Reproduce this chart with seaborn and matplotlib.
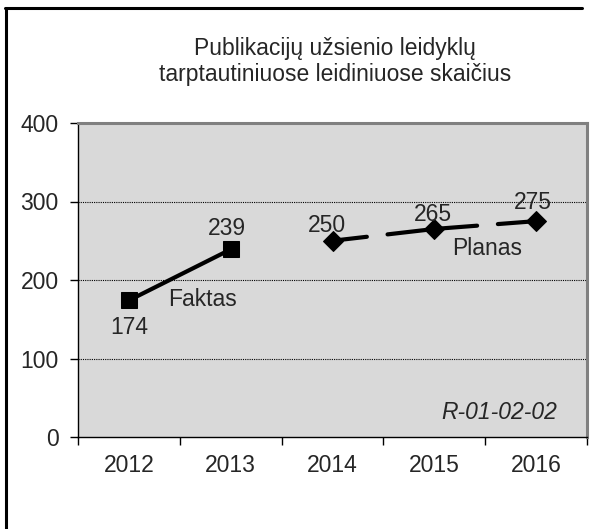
import matplotlib
matplotlib.use("Agg")
import matplotlib.pyplot as plt
import seaborn as sns
import pandas as pd
from matplotlib.lines import Line2D

sns.set_theme(style="white")
plt.rcParams['font.family'] = ['Liberation Sans', 'DejaVu Sans']

years = ["2012", "2013", "2014", "2015", "2016"]
fact_years = ["2012", "2013"]
fact_values = [174, 239]
plan_years = ["2014", "2015", "2016"]
plan_values = [250, 265, 275]
yticks = [0, 100, 200, 300, 400]
title = "Publikacijų užsienio leidyklų\ntarptautiniuose leidiniuose skaičius"

FS = 16.5

fig = plt.figure(figsize=(5.91, 5.29), dpi=100)
ax = fig.add_axes([78/591, 1-437/529, (587-78)/591, (437-123)/529])
ax.set_facecolor("#D9D9D9")

# category order
ax.plot(years, [None]*len(years), alpha=0)

df_f = pd.DataFrame({"year": fact_years, "value": fact_values})
df_p = pd.DataFrame({"year": plan_years, "value": plan_values})

sns.lineplot(data=df_f, x="year", y="value", ax=ax, color="black", lw=3.0,
             marker="s", markersize=11, markeredgecolor="black", sort=False)
sns.lineplot(data=df_p, x="year", y="value", ax=ax, color="black", lw=3.0,
             marker="D", markersize=10, markeredgecolor="black", sort=False,
             dashes=False)
ax.lines[-1].set_linestyle((13.3, (21.6, 5.0)))
ax.lines[-1].set_dash_capstyle("round")

ax.set_xlim(-0.5, 4.5)
ax.set_ylim(0, 400)
ax.set_yticks(yticks)
ax.set_yticklabels([str(t) for t in yticks], fontsize=FS)
ax.set_xticks(range(len(years)))
ax.set_xticklabels(years, fontsize=FS)
ax.set_xticks([i - 0.5 for i in range(len(years) + 1)], minor=True)
ax.tick_params(axis="x", which="major", length=0, pad=12)
ax.tick_params(axis="x", which="minor", length=6, width=1, color="black", direction="out", bottom=True)
ax.tick_params(axis="y", which="major", length=6, width=1, color="black", direction="out", left=True, pad=8)
ax.set_xlabel("")
ax.set_ylabel("")

for y in [100, 200, 300]:
    ax.axhline(y, color="black", lw=0.8, ls=(0, (1, 1)), zorder=1)

for s in ["left", "bottom"]:
    ax.spines[s].set_color("black")
    ax.spines[s].set_linewidth(1.0)
for s in ["top", "right"]:
    ax.spines[s].set_color("#808080")
    ax.spines[s].set_linewidth(2.2)

# value labels
ax.text(0.0, 140, "174", ha="center", va="center", fontsize=FS)
ax.text(0.96, 266, "239", ha="center", va="center", fontsize=FS)
ax.text(1.95, 270, "250", ha="center", va="center", fontsize=FS)
ax.text(2.99, 283, "265", ha="center", va="center", fontsize=FS)
ax.text(3.97, 299, "275", ha="center", va="center", fontsize=FS)
ax.text(0.72, 175, "Faktas", ha="center", va="center", fontsize=FS)
ax.text(3.52, 240, "Planas", ha="center", va="center", fontsize=FS)
ax.text(4.21, 31, "R-01-02-02", ha="right", va="center", fontsize=FS, style="italic")

fig.text(335/591, 1-61.5/529, title, ha="center", va="center", fontsize=FS,
         linespacing=1.15)

# outer frame (left and top only, as cropped)
fig.add_artist(Line2D([5.5/591, 5.5/591], [0, 1-8/529], color="black", lw=2.2,
                      transform=fig.transFigure))
fig.add_artist(Line2D([4.5/591, 582/591], [1-8/529, 1-8/529], color="black", lw=2.2,
                      transform=fig.transFigure))

fig.savefig("out.png", dpi=100)
